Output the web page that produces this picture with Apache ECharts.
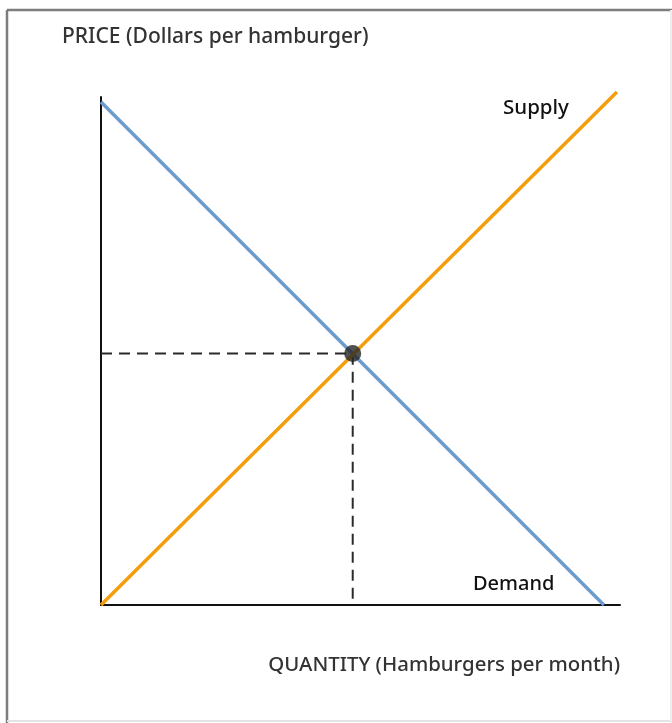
<!DOCTYPE html>
<html>
<head>
<meta charset="utf-8">
<script src="https://cdn.jsdelivr.net/npm/echarts@6/dist/echarts.min.js"></script>
<style>
  html, body { margin: 0; padding: 0; background: #fff; }
  #chart { width: 672px; height: 723px; }
</style>
</head>
<body>
<div id="chart"></div>
<script>
// curve end points (quantity, price)
var demandPts = [[0, 9.9], [9.69, 0]];
var supplyPts = [[0, 0], [9.94, 10.1]];
var equilibrium = [4.85, 4.95];

var FONT = 'Noto Sans';

window.onload = function() {
    var chart = echarts.init(document.getElementById('chart'));

    var option = {
        animation: false,
        backgroundColor: '#fff',
        grid: { left: 101, right: 52, top: 97, bottom: 118 },
        xAxis: {
            type: 'value', min: 0, max: 10,
            axisLine: { show: true, lineStyle: { color: '#111', width: 2 } },
            axisTick: { show: false }, axisLabel: { show: false }, splitLine: { show: false }
        },
        yAxis: {
            type: 'value', min: 0, max: 10,
            axisLine: { show: true, lineStyle: { color: '#111', width: 2 } },
            axisTick: { show: false }, axisLabel: { show: false }, splitLine: { show: false }
        },
        series: [
            {
                name: 'Demand', type: 'line', data: demandPts, symbol: 'none', clip: false,
                lineStyle: { color: '#6c9bcd', width: 3.5 }, z: 3
            },
            {
                name: 'Supply', type: 'line', data: supplyPts, symbol: 'none', clip: false,
                lineStyle: { color: '#f59e0b', width: 3.5 }, z: 4
            },
            {
                // dashed guide lines to the axes
                type: 'line', symbol: 'none', z: 2,
                data: [[0, equilibrium[1]], equilibrium, [equilibrium[0], 0]],
                lineStyle: { color: '#2a2a2a', width: 2, type: [11, 7] }
            },
            {
                type: 'scatter', data: [equilibrium], symbolSize: 17, z: 5,
                itemStyle: { color: '#262626' }
            }
        ],
        graphic: [
            { type: 'line', shape: { x1: 7, y1: 10, x2: 672, y2: 10 }, style: { stroke: '#7d7d7d', lineWidth: 2.5 } },
            { type: 'line', shape: { x1: 7, y1: 10, x2: 7, y2: 723 }, style: { stroke: '#7d7d7d', lineWidth: 2.5 } },
            { type: 'line', shape: { x1: 7, y1: 721, x2: 672, y2: 721 }, style: { stroke: '#e4e4e4', lineWidth: 2 } },
            { type: 'line', shape: { x1: 671, y1: 10, x2: 671, y2: 723 }, style: { stroke: '#eeeeee', lineWidth: 2 } },
            { type: 'text', left: 62, top: 27, style: { text: 'PRICE (Dollars per hamburger)', fill: '#333', font: '500 21px ' + FONT } },
            { type: 'text', left: 503, top: 98, style: { text: 'Supply', fill: '#111', font: '500 20.5px ' + FONT } },
            { type: 'text', left: 473, top: 574, style: { text: 'Demand', fill: '#111', font: '500 20px ' + FONT } },
            { type: 'text', right: 52, top: 655, style: { text: 'QUANTITY (Hamburgers per month)', fill: '#333', font: '500 20.4px ' + FONT } }
        ]
    };

    chart.setOption(option);
};
</script>
</body>
</html>
